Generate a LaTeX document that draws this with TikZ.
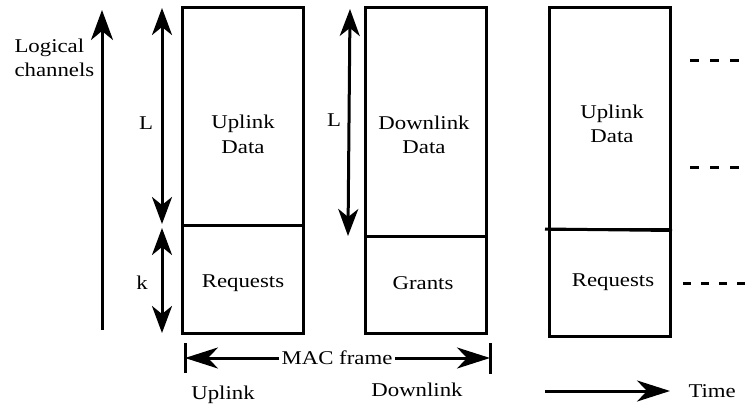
\documentclass[tikz,border=0pt]{standalone}
\usepackage{fontspec}
\setmainfont{Liberation Serif}[FakeStretch=1.17]
\usetikzlibrary{arrows.meta}
\begin{document}
\begin{tikzpicture}[x=1pt,y=-1pt,line width=3pt,
  box/.style={draw,line width=3pt,inner sep=0pt,minimum width=121pt},
  txt/.style={font=\fontsize{19.5}{24.5}\selectfont,align=center,inner sep=1pt},
  bigarrow/.style={-{Stealth[length=30pt,width=22pt,inset=9pt]}},
  dbl/.style={{Stealth[length=27pt,width=20pt,inset=8pt]}-{Stealth[length=27pt,width=20pt,inset=8pt]}},
  harrow/.style={-{Stealth[length=33pt,width=21pt,inset=10pt]}},
  dashline/.style={dash pattern=on 9pt off 11pt}
]
\useasboundingbox (0,0) rectangle (750,409);
% boxes
\node[box,minimum height=217pt] (ud1) at (242.5,116.5) {};
\node[box,minimum height=108pt] (rq1) at (242.5,279) {};
\node[box,minimum height=228pt] (dd) at (425.5,122) {};
\node[box,minimum height=97pt] (gr) at (425.5,284.5) {};
\node[box,minimum height=221pt] (ud2) at (610,118.5) {};
\node[box,minimum height=107pt] (rq2) at (610,282.5) {};
\coordinate (divl) at (545,229);
\draw (divl) -- (ud2.south east);
% box texts
\node[txt] (t1) at (243,134.5) {Uplink\\Data};
\node[txt] (t2) at (243,283) {Requests};
\node[txt] (t3) at (424,135) {Downlink\\Data};
\node[txt] (t4) at (423,283) {Grants};
\node[txt] (t5) at (612,124) {Uplink\\Data};
\node[txt] (t6) at (613,282) {Requests};
% logical channels
\coordinate (lcb) at (102,330);
\coordinate (lct) at (102,10);
\draw[bigarrow] (lcb) -- (lct);
\node[txt,align=left,anchor=west] (lc) at (12,58) {Logical\\channels};
% L and k arrows
\coordinate (L1t) at (162,8);
\coordinate (L1b) at (162,224);
\coordinate (k1t) at (162,228);
\coordinate (k1b) at (162,333);
\draw[dbl] (L1t) -- (L1b);
\draw[dbl] (k1t) -- (k1b);
\node[txt] (Lab1) at (146,123) {L};
\node[txt] (kab1) at (142,283) {k};
\coordinate (L2t) at (350,9);
\coordinate (L2b) at (348,236);
\draw[dbl] (L2t) -- (L2b);
\node[txt] (Lab2) at (334,120) {L};
% dashes
\coordinate (d1a) at (690,61);  \coordinate (d1b) at (750,61);
\coordinate (d2a) at (690,168); \coordinate (d2b) at (745,168);
\coordinate (d3a) at (683,283); \coordinate (d3b) at (750,283);
\draw[dashline] (d1a) -- (d1b);
\draw[dashline] (d2a) -- (d2b);
\draw[dash pattern=on 8pt off 10pt] (d3a) -- (d3b);
% MAC frame
\node[txt] (mac) at (337,358) {MAC frame};
\coordinate (tl1) at (185,343); \coordinate (tl2) at (185,373);
\coordinate (tr1) at (490,343); \coordinate (tr2) at (490,374);
\draw (tl1) -- (tl2);
\draw (tr1) -- (tr2);
\draw[harrow] (mac.west) -- (185,358);
\draw[harrow] (mac.east) -- (490,358);
\node[txt] (up) at (223,395) {Uplink};
\node[txt] (down) at (417,390) {Downlink};
% time
\coordinate (ta) at (545,391);
\node[txt,anchor=west] (time) at (686,391) {Time};
\draw[harrow] (ta) -- (670,391);
\end{tikzpicture}
\end{document}
